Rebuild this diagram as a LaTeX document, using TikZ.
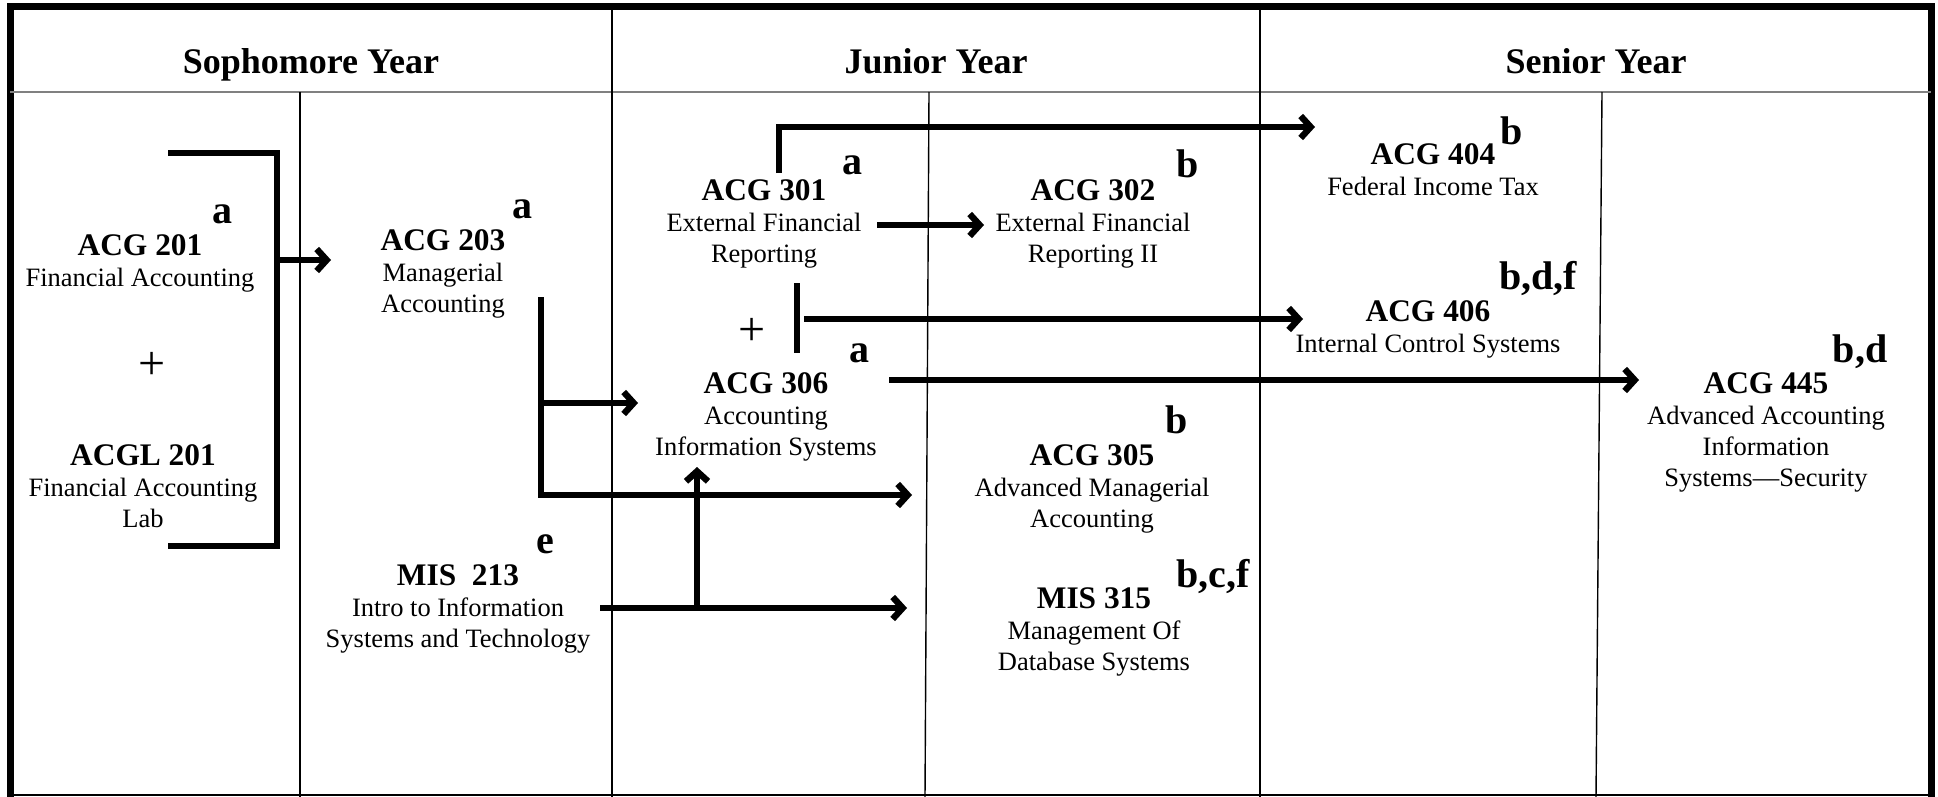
\documentclass[tikz,border=0pt]{standalone}
\usepackage{fontspec}
\setmainfont{Liberation Serif}
\usetikzlibrary{arrows.meta}
\newcommand{\crs}[1]{{\fontsize{15.7}{15.4}\selectfont\bfseries #1}}

\begin{document}
\begin{tikzpicture}[x=0.5pt, y=-0.5pt]
\tikzset{course/.style = {align=center, inner sep=0pt, anchor=base, font=\fontsize{13.25}{15.4}\selectfont}}
\tikzset{note/.style = {inner sep=0pt, anchor=base, font=\fontsize{20}{24}\selectfont\bfseries}}
\tikzset{year/.style = {inner sep=0pt, anchor=base, font=\fontsize{18}{22}\selectfont\bfseries}}
\tikzset{plus/.style = {inner sep=0pt, font=\fontsize{24}{28}\selectfont}}
\tikzset{link/.style = {line width=3.2pt}}
\tikzset{edge/.style = {-{Straight Barb[length=5pt, width=11pt]}, line width=3.2pt}}

\useasboundingbox (0,0) rectangle (1938,797);

% frame and columns
\draw[line width=3.5pt] (10,797) -- (10,7) -- (1931,7) -- (1931,797);
\draw[line width=0.6pt] (10,795) -- (1931,795);
\draw[gray, line width=0.6pt] (10,92) -- (1931,92);
\foreach \x in {612, 1260}
   {\draw[line width=0.7pt] (\x, 9) -- (\x, 797);}
\foreach \xa/\xb in {300/300, 929/925, 1602/1596}
   {\draw[line width=0.7pt] (\xa, 92) -- (\xb, 797);}

% years
\node[year] (soph) at (311, 74) {Sophomore Year};
\node[year] (jun) at (936, 74) {Junior Year};
\node[year] (sen) at (1596, 74) {Senior Year};

% courses (placed at the baseline of their last line)
\node[course] (acg201) at (140, 286) {\crs{ACG 201}\\Financial Accounting};
\node[course] (acgl201) at (143, 527) {\crs{ACGL 201}\\Financial Accounting\\Lab};
\node[course] (acg203) at (443, 312) {\crs{ACG 203}\\Managerial\\Accounting};
\node[course] (mis213) at (458, 647) {\crs{MIS\ \ 213}\\Intro to Information\\Systems and Technology};
\node[course] (acg301) at (764, 262) {\crs{ACG 301}\\External Financial\\Reporting};
\node[course] (acg306) at (766, 455) {\crs{ACG 306}\\Accounting\\Information Systems};
\node[course] (acg302) at (1093, 262) {\crs{ACG 302}\\External Financial\\Reporting II};
\node[course] (acg305) at (1092, 527) {\crs{ACG 305}\\Advanced Managerial\\Accounting};
\node[course] (mis315) at (1094, 670) {\crs{MIS 315}\\Management Of\\Database Systems};
\node[course] (acg404) at (1433, 195) {\crs{ACG 404}\\Federal Income Tax};
\node[course] (acg406) at (1428, 352) {\crs{ACG 406}\\Internal Control Systems};
\node[course] (acg445) at (1766, 486) {\crs{ACG 445}\\Advanced Accounting\\Information\\Systems---Security};

% notes
\node[note] (n201) at (222, 223) {a};
\node[note] (n203) at (522, 218) {a};
\node[note] (n213) at (545, 553) {e};
\node[note] (n301) at (852, 175) {a};
\node[note] (n306) at (859, 362) {a};
\node[note] (n302) at (1188, 177) {b};
\node[note] (n305) at (1177, 433) {b};
\node[note] (n315) at (1213, 587) {b,c,f};
\node[note] (n404) at (1512, 145) {b};
\node[note] (n406) at (1538, 289) {b,d,f};
\node[note] (n445) at (1860, 362) {b,d};

\node[plus] (and201) at (152, 366) {+};
\node[plus] (and306) at (752, 332) {+};

% prerequisites
\coordinate (brTop) at (168, 153);
\coordinate (brBot) at (168, 546);
\coordinate (brMid) at (277, 260);
\coordinate (to203) at (331, 260);
\draw[link] (brTop) -- ++(109,0) |- (brBot);
\draw[edge] (brMid) -- (to203);

\coordinate (from203) at (541, 297);
\coordinate (fork203) at (541, 403);
\coordinate (to306) at (638, 403);
\coordinate (to305) at (912, 495);
\draw[edge] (from203) |- (to305);
\draw[edge] (fork203) -- (to306);

\coordinate (from213) at (600, 608);
\coordinate (fork213) at (697, 608);
\coordinate (up306) at (697, 467);
\coordinate (to315) at (907, 608);
\draw[edge] (from213) -- (to315);
\draw[edge] (fork213) -- (up306);

\coordinate (from301) at (779, 173);
\coordinate (to404) at (1315, 127);
\draw[edge] (from301) |- (to404);
\coordinate (right301) at (877, 225);
\coordinate (to302) at (984, 225);
\draw[edge] (right301) -- (to302);

\coordinate (barTop) at (797, 283);
\coordinate (barBot) at (797, 353);
\coordinate (fromBar) at (804, 319);
\coordinate (to406) at (1303, 319);
\draw[link] (barTop) -- (barBot);
\draw[edge] (fromBar) -- (to406);

\coordinate (right306) at (889, 380);
\coordinate (to445) at (1639, 380);
\draw[edge] (right306) -- (to445);

\end{tikzpicture}
\end{document}
